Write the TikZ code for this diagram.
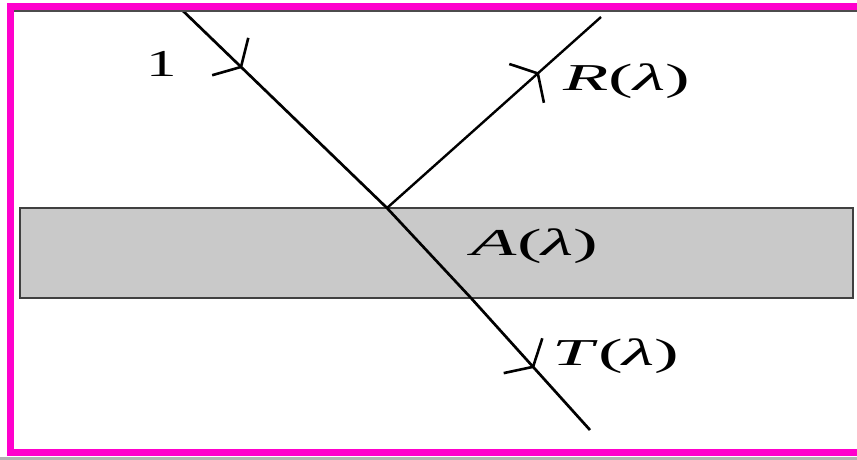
\documentclass[tikz,border=0pt]{standalone}
\usepackage{fontspec}
\setmainfont{Liberation Serif}
\usetikzlibrary{arrows.meta,decorations.markings}
\definecolor{framec}{RGB}{255,0,204}
\definecolor{slabc}{RGB}{201,201,201}
\begin{document}
\begin{tikzpicture}[x=1pt,y=-1pt,
  ray/.style={line width=2.7pt, black},
  barb/.style={postaction={decorate}, decoration={markings, mark=at position #1 with {\arrow{Straight Barb[length=15pt,width=52pt,line width=2.6pt]}}}},
  lbl/.style={font=\fontsize{38}{42}\selectfont, inner sep=0pt}]
\useasboundingbox (0,0) rectangle (857,460);
\fill[white] (0,0) rectangle (857,460);
\fill[gray!60] (0,457) rectangle (857,460);
\coordinate (sl1) at (20,208);
\coordinate (sl2) at (853,298);
\draw[draw=black!75, fill=slabc, line width=2.4pt] (sl1) rectangle (sl2);
\coordinate (top) at (180,8);
\coordinate (hit) at (387,208);
\coordinate (exit) at (471,298);
\coordinate (bot) at (590,430);
\coordinate (rtop) at (601,17);
\draw[ray, barb=0.3] (top) -- (hit);
\draw[ray] (hit) -- (exit);
\draw[ray, barb=0.53] (exit) -- (bot);
\draw[ray, line width=2.4pt, barb=0.71] (hit) -- (rtop);
\draw[line width=1.2pt, black!70] (14,11) -- (857,11);
\draw[framec, line width=7pt] (857,6.5) -- (10.5,6.5) -- (10.5,452.5) -- (857,452.5);
\node[lbl] (one) at (162,64) {\scalebox{1.6}[1]{1}};
\node[lbl] (R) at (627,81) {\scalebox{1.95}[1]{\textit{R}(\textit{λ})}};
\node[lbl] (A) at (535,246) {\scalebox{1.95}[1]{\textit{A}(\textit{λ})}};
\node[lbl] (T) at (616,356) {\scalebox{1.95}[1]{\textit{T}(\textit{λ})}};
\end{tikzpicture}
\end{document}
